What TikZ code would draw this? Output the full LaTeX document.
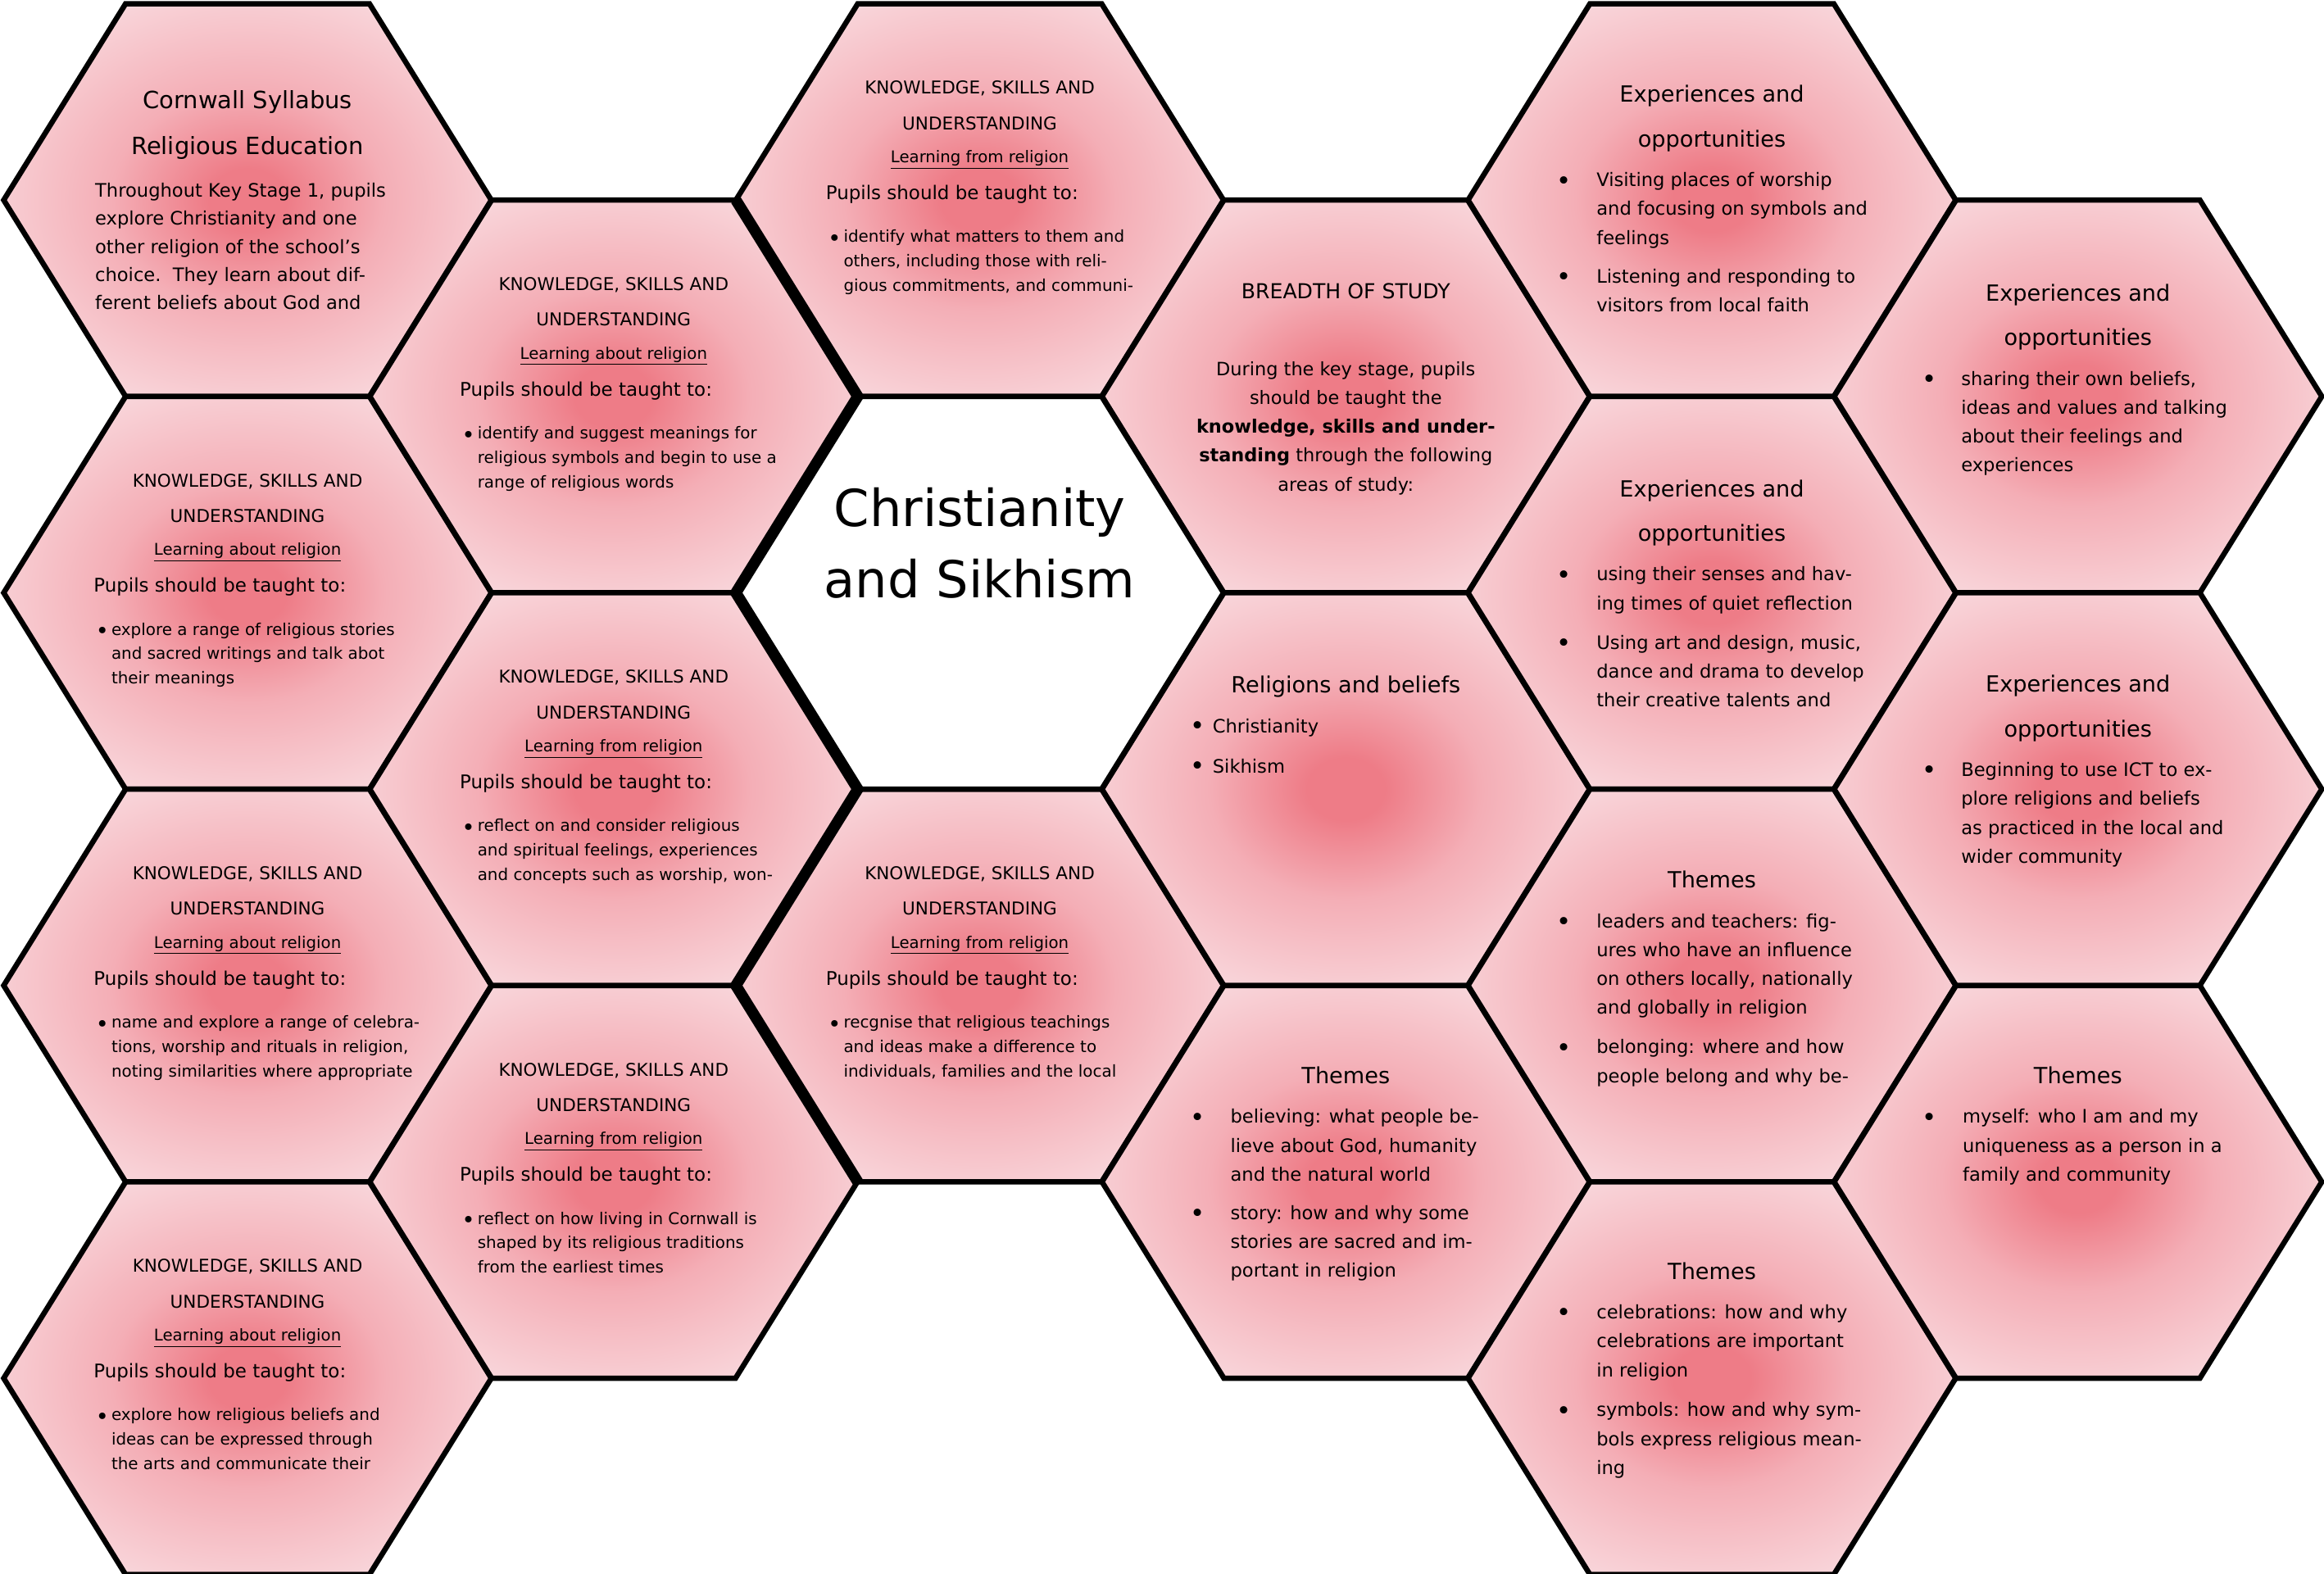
\documentclass[tikz,border=0pt]{standalone}
\usepackage{fontspec}
\setmainfont{DejaVu Sans}
\usepackage{tikz}
\definecolor{cellin}{RGB}{238,124,135}
\definecolor{cellmid}{RGB}{244,174,182}
\definecolor{cellout}{RGB}{250,225,229}
\pgfdeclareradialshading{cellglow}{\pgfpoint{0bp}{0bp}}{color(0bp)=(cellin); color(4bp)=(cellin); color(14bp)=(cellmid); color(32bp)=(cellout); color(50bp)=(cellout)}
\tikzset{
    every node/.style={inner sep=0pt, text=black}
}
\tikzset{
    celledge/.style={draw=black, line width=3.6pt, line join=miter},
    cell/.style={celledge, shading=cellglow},
    seam/.style={draw=black, line width=7.5pt, line join=miter}
}
\tikzset{
    topline/.style={execute at begin node=\strut},
    headline/.style={topline, anchor=north, align=center, yshift=15pt, font=\fontsize{15}{30}\selectfont},
    headpair/.style={headline, yshift=-9.5pt},
    bodyline/.style={topline, anchor=north west, align=left, yshift=8.3pt, font=\fontsize{12.5}{19.5}\selectfont},
    bodytext/.style={bodyline, yshift=-3.5pt},
    bodycenter/.style={topline, anchor=north, align=center, yshift=4.3pt, font=\fontsize{12.4}{19.5}\selectfont},
    bodydot/.style={anchor=mid, yshift=-4pt, font=\fontsize{17}{19.5}\selectfont},
    capline/.style={topline, anchor=north, align=center, yshift=11.7pt, font=\fontsize{13.9}{24}\selectfont},
    ksucap/.style={topline, anchor=north, align=center, yshift=4.5pt, font=\fontsize{11.9}{24}\selectfont},
    ksusub/.style={anchor=mid, font=\fontsize{10.9}{24}\selectfont},
    ksulead/.style={anchor=mid west, font=\fontsize{12.7}{24}\selectfont},
    ksudot/.style={anchor=mid, yshift=-4.5pt, font=\fontsize{15}{16.5}\selectfont},
    ksuitem/.style={topline, anchor=north west, align=left, yshift=4pt, font=\fontsize{11}{16.5}\selectfont},
    titletext/.style={topline, anchor=north, align=center, yshift=14pt, font=\fontsize{34.4}{48}\selectfont}
}
\newcommand{\ksucell}[5]{%
  \node (#1cap) [ksucap] at (#2, #3-76) {KNOWLEDGE, SKILLS AND\\UNDERSTANDING};
  \node (#1sub) [ksusub] at (#2, #3-28) {\underline{Learning #4 religion}};
  \node (#1lead) [ksulead] at (#2-104, #3-3) {Pupils should be taught to:};
  \node (#1dot) [ksudot] at (#2-98, #3+24) {\textbullet};
  \node (#1item) [ksuitem] at (#2-92, #3+24) {#5};
}

\begin{document}
\begin{tikzpicture}[x=1pt, y=-1pt]
  \useasboundingbox (0,0) rectangle (1568,1062);

  \foreach \cx/\cy in {167/135, 167/400, 167/665, 167/930, 414/267.5, 414/532.5, 414/797.5,
      661/135, 661/665, 908/267.5, 908/532.5, 908/797.5, 1155/135, 1155/400, 1155/665,
      1155/930, 1402/267.5, 1402/532.5, 1402/797.5}
    \shadedraw[cell, shift={(\cx,\cy)}] (-164.5,0) -- (-82.25,-132.5) -- (82.25,-132.5)
      -- (164.5,0) -- (82.25,132.5) -- (-82.25,132.5) -- cycle;
  \draw[celledge, fill=white, shift={(661,400)}] (-164.5,0) -- (-82.25,-132.5)
    -- (82.25,-132.5) -- (164.5,0) -- (82.25,132.5) -- (-82.25,132.5) -- cycle;
  \draw[seam] (496.5,135) -- (578.75,267.5) -- (496.5,400) -- (578.75,532.5)
    -- (496.5,665) -- (578.75,797.5);

  \node (title) [titletext] at (661, 343) {Christianity\\and Sikhism};

  \node (syllabus) [headpair, yshift=0.5pt, font=\fontsize{16}{31}\selectfont] at (167, 67) {Cornwall Syllabus\\Religious Education};
  \node (syllabusbody) [bodytext, font=\fontsize{12.5}{19}\selectfont] at (64, 128) {Throughout Key Stage 1, pupils\\explore Christianity and one\\other religion of the school’s\\choice.\ \ They learn about dif-\\ferent beliefs about God and};

  \ksucell{kA}{414}{267.5}{about}{identify and suggest meanings for\\religious symbols and begin to use a\\range of religious words}
  \ksucell{kB}{661}{135}{from}{identify what matters to them and\\others, including those with reli-\\gious commitments, and communi-}
  \ksucell{kC}{167}{400}{about}{explore a range of religious stories\\and sacred writings and talk abot\\their meanings}
  \ksucell{kD}{414}{532.5}{from}{reflect on and consider religious\\and spiritual feelings, experiences\\and concepts such as worship, won-}
  \ksucell{kE}{167}{665}{about}{name and explore a range of celebra-\\tions, worship and rituals in religion,\\noting similarities where appropriate}
  \ksucell{kF}{661}{665}{from}{recgnise that religious teachings\\and ideas make a difference to\\individuals, families and the local}
  \ksucell{kG}{414}{797.5}{from}{reflect on how living in Cornwall is\\shaped by its religious traditions\\from the earliest times}
  \ksucell{kH}{167}{930}{about}{explore how religious beliefs and\\ideas can be expressed through\\the arts and communicate their}

  \node (breadth) [capline] at (908, 196) {BREADTH OF STUDY};
  \node (breadthbody) [bodycenter] at (908, 248) {During the key stage, pupils\\should be taught the\\\textbf{knowledge, skills and under-}\\\textbf{standing} through the following\\areas of study:};

  \node (beliefs) [headline] at (908, 461) {Religions and beliefs};
  \node (beliefsdotA) [bodydot] at (808, 489) {\textbullet};
  \node (beliefsA) [bodyline] at (818, 489) {Christianity};
  \node (beliefsdotB) [bodydot] at (808, 516) {\textbullet};
  \node (beliefsB) [bodyline] at (818, 516) {Sikhism};

  \node (themesA) [headline] at (908, 725) {Themes};
  \node (themesAdot1) [bodydot] at (808, 753) {\textbullet};
  \node (themesA1) [bodytext] at (830, 753) {believing: what people be-\\lieve about God, humanity\\and the natural world};
  \node (themesAdot2) [bodydot] at (808, 818) {\textbullet};
  \node (themesA2) [bodytext] at (830, 818) {story: how and why some\\stories are sacred and im-\\portant in religion};

  \node (expA) [headpair] at (1155, 63) {Experiences and\\opportunities};
  \node (expAdot1) [bodydot] at (1055, 121) {\textbullet};
  \node (expA1) [bodytext] at (1077, 121) {Visiting places of worship\\and focusing on symbols and\\feelings};
  \node (expAdot2) [bodydot] at (1055, 186) {\textbullet};
  \node (expA2) [bodytext] at (1077, 186) {Listening and responding to\\visitors from local faith};

  \node (expB) [headpair] at (1155, 329) {Experiences and\\opportunities};
  \node (expBdot1) [bodydot] at (1055, 387) {\textbullet};
  \node (expB1) [bodytext] at (1077, 387) {using their senses and hav-\\ing times of quiet reflection};
  \node (expBdot2) [bodydot] at (1055, 433) {\textbullet};
  \node (expB2) [bodytext] at (1077, 433) {Using art and design, music,\\dance and drama to develop\\their creative talents and};

  \node (themesB) [headline] at (1155, 593) {Themes};
  \node (themesBdot1) [bodydot] at (1055, 621) {\textbullet};
  \node (themesB1) [bodytext] at (1077, 621) {leaders and teachers: fig-\\ures who have an influence\\on others locally, nationally\\and globally in religion};
  \node (themesBdot2) [bodydot] at (1055, 706) {\textbullet};
  \node (themesB2) [bodytext] at (1077, 706) {belonging: where and how\\people belong and why be-};

  \node (themesC) [headline] at (1155, 857) {Themes};
  \node (themesCdot1) [bodydot] at (1055, 885) {\textbullet};
  \node (themesC1) [bodytext] at (1077, 885) {celebrations: how and why\\celebrations are important\\in religion};
  \node (themesCdot2) [bodydot] at (1055, 951) {\textbullet};
  \node (themesC2) [bodytext] at (1077, 951) {symbols: how and why sym-\\bols express religious mean-\\ing};

  \node (expC) [headpair] at (1402, 197) {Experiences and\\opportunities};
  \node (expCdot1) [bodydot] at (1302, 255) {\textbullet};
  \node (expC1) [bodytext] at (1323, 255) {sharing their own beliefs,\\ideas and values and talking\\about their feelings and\\experiences};

  \node (expD) [headpair] at (1402, 461) {Experiences and\\opportunities};
  \node (expDdot1) [bodydot] at (1302, 519) {\textbullet};
  \node (expD1) [bodytext] at (1323, 519) {Beginning to use ICT to ex-\\plore religions and beliefs\\as practiced in the local and\\wider community};

  \node (themesD) [headline] at (1402, 725) {Themes};
  \node (themesDdot1) [bodydot] at (1302, 753) {\textbullet};
  \node (themesD1) [bodytext] at (1324, 753) {myself: who I am and my\\uniqueness as a person in a\\family and community};
\end{tikzpicture}
\end{document}
